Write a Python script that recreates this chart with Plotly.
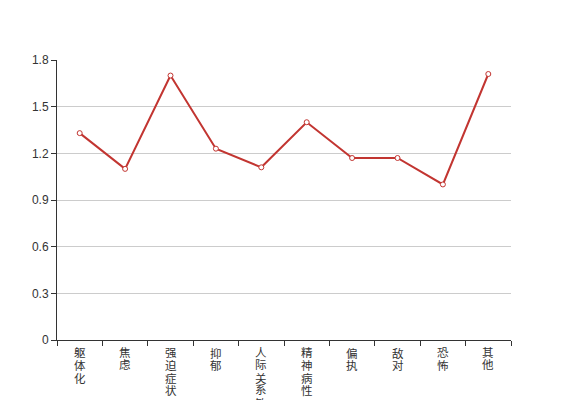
import plotly.graph_objects as go

categories = ["躯体化", "焦虑", "强迫症状", "抑郁", "人际关系敏感", "精神病性", "偏执", "敌对", "恐怖", "其他"]
values = [1.33, 1.10, 1.70, 1.23, 1.11, 1.40, 1.17, 1.17, 1.00, 1.71]
y_ticks = [0, 0.3, 0.6, 0.9, 1.2, 1.5, 1.8]
y_tick_text = ["0", "0.3", "0.6", "0.9", "1.2", "1.5", "1.8"]

RED = "#c23531"
FONT = "Liberation Sans, Noto Sans CJK SC, sans-serif"

fig = go.Figure()
fig.add_trace(go.Scatter(
    x=categories, y=values, mode="lines+markers",
    line=dict(color=RED, width=2),
    marker=dict(symbol="circle", size=5, color="white", line=dict(color=RED, width=1)),
    showlegend=False, cliponaxis=False,
))

# vertical category labels, one character per line
annotations = []
for cat in categories:
    for j, ch in enumerate(cat):
        annotations.append(dict(
            x=cat, y=0, xref="x", yref="y", text=ch, showarrow=False,
            yanchor="top", xanchor="center", yshift=-6 - 12.4 * j,
            font=dict(family=FONT, size=11.5, color="#333"), borderpad=0,
        ))

fig.update_layout(
    width=559, height=392,
    margin=dict(l=49, r=56, t=52, b=60, autoexpand=False),
    paper_bgcolor="white", plot_bgcolor="white",
    font=dict(family=FONT, size=12, color="#333"),
    annotations=annotations,
    xaxis=dict(
        type="category", categoryorder="array", categoryarray=categories,
        range=[-0.5, len(categories) - 0.5],
        showticklabels=False, tickson="boundaries", ticks="outside", ticklen=5,
        tickcolor="#333", showline=True, linecolor="#333", linewidth=1,
        showgrid=False, zeroline=False, automargin=False,
    ),
    yaxis=dict(
        range=[0, 1.8], tickvals=y_ticks, ticktext=y_tick_text,
        ticks="outside", ticklen=5, tickcolor="#333",
        showline=True, linecolor="#333", linewidth=1,
        showgrid=True, gridcolor="#ccc", gridwidth=1, zeroline=False,
        tickfont=dict(family=FONT, size=12, color="#333"), automargin=False,
    ),
)

fig.write_html("out.html")
